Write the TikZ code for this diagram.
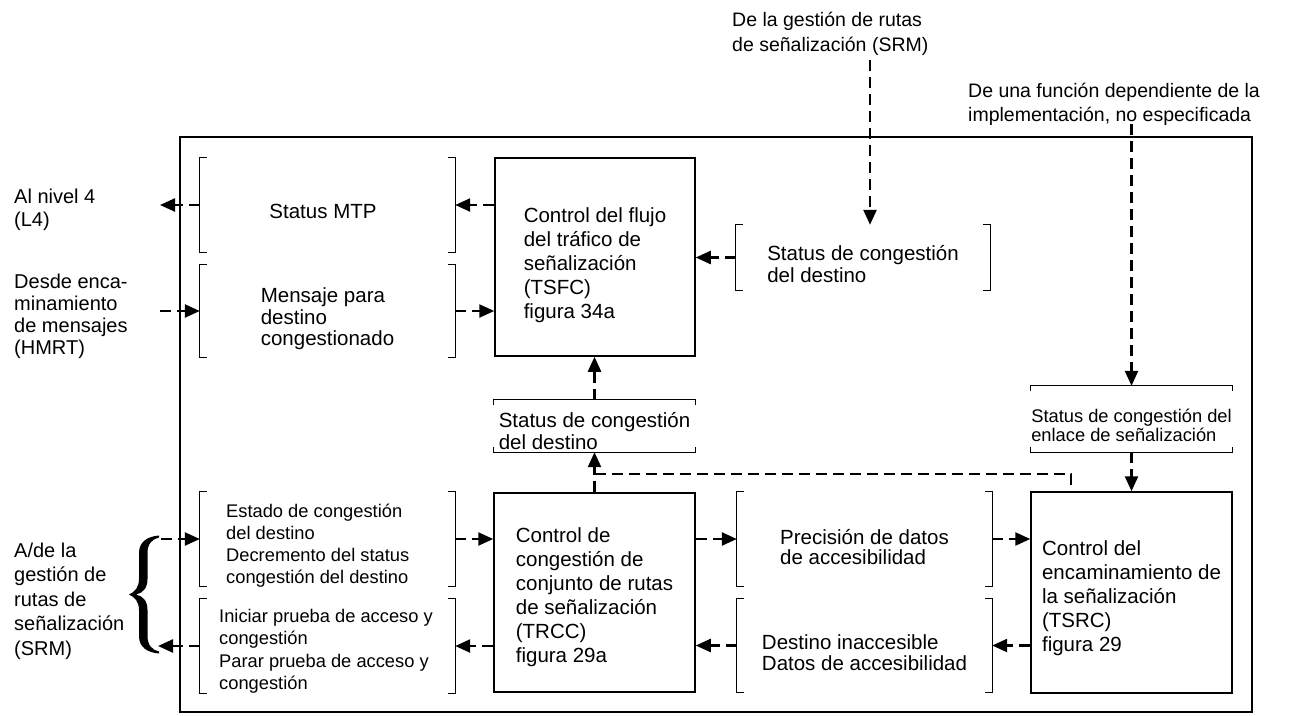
\documentclass[tikz,border=0pt]{standalone}
\usepackage{fontspec}
\setmainfont{Liberation Sans}
\usetikzlibrary{arrows.meta}
\newcommand\vbrk[1]{%
  \draw[brkline] ([xshift=7pt]#1.north west) -- (#1.north west) -- (#1.south west) -- ([xshift=7pt]#1.south west);
  \draw[brkline] ([xshift=-7pt]#1.north east) -- (#1.north east) -- (#1.south east) -- ([xshift=-7pt]#1.south east);}
\newcommand\hbrk[1]{%
  \draw[brkline] ([yshift=-5pt]#1.north west) -- (#1.north west) -- (#1.north east) -- ([yshift=-5pt]#1.north east);
  \draw[brkline] ([yshift=5pt]#1.south west) -- (#1.south west) -- (#1.south east) -- ([yshift=5pt]#1.south east);}
\begin{document}
\begin{tikzpicture}[x=1pt,y=-1pt,
  big/.style={font=\fontsize{20.5}{24}\selectfont, inner sep=0pt, align=left},
  mid/.style={font=\fontsize{20}{23}\selectfont, inner sep=0pt, align=left},
  small/.style={font=\fontsize{18.3}{22}\selectfont, inner sep=0pt, align=left},
  fbox/.style={draw, line width=1.5pt, inner sep=0pt},
  brk/.style={inner sep=0pt},
  brkline/.style={line width=1.3pt},
  dl/.style={line width=2.4pt, dash pattern=on 11pt off 6pt, -{Triangle[length=15pt,width=13pt]}},
  dn/.style={line width=2.4pt, dash pattern=on 11pt off 6pt}]
\useasboundingbox (0,0) rectangle (1289,715);

% outer frame
\node[draw, line width=1.3pt, inner sep=0pt, minimum width=1072, minimum height=575] (outer) at (716,424.5) {};

% boxes
\node[fbox, minimum width=200, minimum height=198] (tsfc) at (595,257) {};
\node[fbox, minimum width=201, minimum height=199] (trcc) at (594.5,592.5) {};
\node[fbox, minimum width=201, minimum height=201] (tsrc) at (1131.5,592.5) {};

% brackets
\node[brk, minimum width=255, minimum height=94] (mtp) at (327.5,205) {};
\node[brk, minimum width=255, minimum height=92] (msg) at (327.5,311) {};
\node[brk, minimum width=254, minimum height=65] (scd1) at (863,257.5) {};
\node[brk, minimum width=201, minimum height=52] (scd2) at (594.5,426) {};
\node[brk, minimum width=201, minimum height=66] (sce) at (1131.5,419) {};
\node[brk, minimum width=255, minimum height=94] (est) at (327.5,539) {};
\node[brk, minimum width=255, minimum height=94] (ini) at (327.5,646) {};
\node[brk, minimum width=255, minimum height=94] (pre) at (864.5,539) {};
\node[brk, minimum width=255, minimum height=93] (des) at (864.5,645.5) {};
\vbrk{mtp}\vbrk{msg}\vbrk{scd1}\vbrk{est}\vbrk{ini}\vbrk{pre}\vbrk{des}
\hbrk{scd2}\hbrk{sce}

% texts
\node[big] (tTSFC) at (595,265) {Control del flujo\\del tráfico de\\señalización\\(TSFC)\\figura 34a};
\node[big] (tTRCC) at (594.5,597.5) {Control de\\congestión de\\conjunto de rutas\\de señalización\\(TRCC)\\figura 29a};
\node[big] (tTSRC) at (1131.5,598) {Control del\\encaminamiento de\\la señalización\\(TSRC)\\figura 29};
\node[big] (tMTP) at (323,211) {Status MTP};
\node[big, font=\fontsize{20.5}{21.5}\selectfont] (tMsg) at (327.5,319) {Mensaje para\\destino\\congestionado};
\node[big, font=\fontsize{20.5}{22}\selectfont] (tScd1) at (863,264) {Status de congestión\\del destino};
\node[big, font=\fontsize{20.5}{22}\selectfont] (tScd2) at (594.5,431.5) {Status de congestión\\del destino};
\node[small, font=\fontsize{18.3}{19}\selectfont] (tSce) at (1131.5,425) {Status de congestión del\\enlace de señalización};
\node[big, font=\fontsize{20.5}{20.5}\selectfont] (tPre) at (864.5,547) {Precisión de datos\\de accesibilidad};
\node[big, font=\fontsize{20.5}{21}\selectfont] (tDes) at (864.5,652.5) {Destino inaccesible\\Datos de accesibilidad};
\node[small, anchor=west] (tEst) at (226,546) {Estado de congestión\\del destino\\Decremento del status\\congestión del destino};
\node[small, anchor=west, font=\fontsize{18.3}{22.5}\selectfont] (tIni) at (219,651.5) {Iniciar prueba de acceso y\\congestión\\Parar prueba de acceso y\\congestión};

\node[mid, anchor=west] (tL4) at (14,210) {Al nivel 4\\(L4)};
\node[mid, anchor=west, font=\fontsize{20}{22}\selectfont] (tHMRT) at (14,316) {Desde enca-\\minamiento\\de mensajes\\(HMRT)};
\node[mid, anchor=west, font=\fontsize{20}{24.5}\selectfont] (tSRM) at (14,601) {A/de la\\gestión de\\rutas de\\señalización\\(SRM)};
\node[mid, anchor=west, font=\fontsize{19.5}{25}\selectfont] (tTop1) at (732,34) {De la gestión de rutas\\de señalización (SRM)};
\node[mid, anchor=west, font=\fontsize{19.5}{24}\selectfont] (tTop2) at (968,104) {De una función dependiente de la\\implementación, no especificada};

% brace
\fill (159,535.5) .. controls (147,536.5) and (139,542) .. (139,553) -- (139,579)
  .. controls (139,587) and (135,592) .. (129,594.5)
  .. controls (135,597) and (139,602) .. (139,610) -- (139,636)
  .. controls (139,647) and (147,652.5) .. (159,653.5) -- (159,651.5)
  .. controls (152,650) and (147.5,645) .. (147.5,636) -- (147.5,610)
  .. controls (147.5,601) and (143,596) .. (136,594.5)
  .. controls (143,593) and (147.5,588) .. (147.5,579) -- (147.5,553)
  .. controls (147.5,544) and (152,539) .. (159,537.5) -- cycle;

% free ends
\coordinate (l4) at (160,205);
\coordinate (hm) at (160,311);
\coordinate (bt) at (161,539);
\coordinate (bb) at (158,646);
\coordinate (srm) at (870,60);
\coordinate (fn) at (1131.5,124);
\coordinate (j) at (594.5,474);
\coordinate (k) at (1071,474);

% connectors
\draw[dl] (mtp.west) -- (l4);
\draw[dl] (hm) -- (msg.west);
\draw[dl] (tsfc.west |- mtp.east) -- (mtp.east);
\draw[dl] (msg.east) -- (msg.east -| tsfc.west);
\draw[dl] (scd1.west) -- (scd1.west -| tsfc.east);
\draw[dl] (srm) -- (srm |- scd1.north);
\draw[dl] (fn) -- (sce.north);
\draw[dl] (sce.south) -- (tsrc.north);
\draw[dl] (scd2.north) -- (scd2.north |- tsfc.south);
\draw[dl] (trcc.north) -- (scd2.south);
\draw[dn] (j) -- (k) -- (k |- tsrc.north);
\draw[dl] (bt) -- (est.west);
\draw[dl] (ini.west) -- (bb);
\draw[dl] (est.east) -- (est.east -| trcc.west);
\draw[dl] (trcc.west |- ini.east) -- (ini.east);
\draw[dl] (trcc.east |- pre.west) -- (pre.west);
\draw[dl] (des.west) -- (des.west -| trcc.east);
\draw[dl] (pre.east) -- (pre.east -| tsrc.west);
\draw[dl] (tsrc.west |- des.east) -- (des.east);
\end{tikzpicture}
\end{document}
